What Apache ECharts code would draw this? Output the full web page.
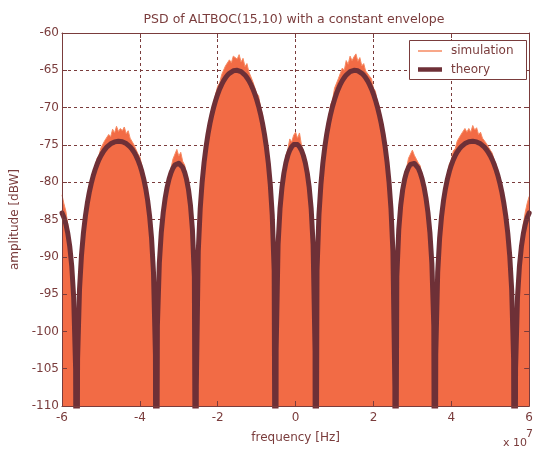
<!DOCTYPE html>
<html>
<head>
<meta charset="utf-8">
<script src="https://cdn.jsdelivr.net/npm/echarts@6/dist/echarts.min.js"></script>
<style>
html,body{margin:0;padding:0;background:#fff;}
#c{width:536px;height:450px;}
</style>
</head>
<body>
<div id="c"></div>
<script>
// Frequency grid in MHz (includes the exact spectral nulls)
const freqMHz = [-60,-59.5,-59,-58.5,-58,-57.5,-57,-56.5,-56.265,-56,-55.5,-55,-54.5,-54,-53.5,-53,-52.5,-52,-51.5,-51,-50.5,-50,-49.5,-49,-48.5,-48,-47.5,-47,-46.5,-46,-45.5,-45,-44.5,-44,-43.5,-43,-42.5,-42,-41.5,-41,-40.5,-40,-39.5,-39,-38.5,-38,-37.5,-37,-36.5,-36,-35.805,-35.5,-35,-34.5,-34,-33.5,-33,-32.5,-32,-31.5,-31,-30.5,-30,-29.5,-29,-28.5,-28,-27.5,-27,-26.5,-26,-25.575,-25.5,-25,-24.5,-24,-23.5,-23,-22.5,-22,-21.5,-21,-20.5,-20,-19.5,-19,-18.5,-18,-17.5,-17,-16.5,-16,-15.5,-15,-14.5,-14,-13.5,-13,-12.5,-12,-11.5,-11,-10.5,-10,-9.5,-9,-8.5,-8,-7.5,-7,-6.5,-6,-5.5,-5.115,-5,-4.5,-4,-3.5,-3,-2.5,-2,-1.5,-1,-0.5,
0,0.5,1,1.5,2,2.5,3,3.5,4,4.5,5,5.115,5.5,6,6.5,7,7.5,8,8.5,9,9.5,10,10.5,11,11.5,12,12.5,13,13.5,14,14.5,15,15.5,16,16.5,17,17.5,18,18.5,19,19.5,20,20.5,21,21.5,22,22.5,23,23.5,24,24.5,25,25.5,25.575,26,26.5,27,27.5,28,28.5,29,29.5,30,30.5,31,31.5,32,32.5,33,33.5,34,34.5,35,35.5,35.805,36,36.5,37,37.5,38,38.5,39,39.5,40,40.5,41,41.5,42,42.5,43,43.5,44,44.5,45,45.5,46,46.5,47,47.5,48,48.5,49,49.5,50,50.5,51,51.5,52,52.5,53,53.5,54,54.5,55,55.5,56,56.265,56.5,57,57.5,58,58.5,59,59.5,60];

// Theoretical PSD (dBW/Hz), -150 marks the nulls (below the axis)
const theoryDb = [-84.12,-84.74,-85.63,-86.89,-88.65,-91.22,-95.40,-105.02,-150,-103.74,-94.34,-89.82,-86.82,-84.59,-82.83,-81.39,-80.19,-79.18,-78.33,-77.60,-76.97,-76.44,-76.00,-75.62,-75.31,-75.06,-74.86,-74.70,-74.60,-74.53,-74.50,-74.52,-74.58,-74.67,-74.82,-75.01,-75.26,-75.58,-75.96,-76.44,-77.01,-77.70,-78.54,-79.57,-80.84,-82.44,-84.54,-87.47,-92.10,-103.10,-150,-99.22,-90.84,-86.73,-84.06,-82.13,-80.68,-79.57,-78.73,-78.11,-77.70,-77.48,-77.45,-77.62,-78.01,-78.66,-79.63,-81.03,-83.10,-86.36,-92.67,-150,-107.34,-89.29,-83.54,-79.96,-77.33,-75.26,-73.56,-72.14,-70.93,-69.88,-68.97,-68.18,-67.50,-66.92,-66.42,-66.01,-65.67,-65.40,-65.20,-65.07,-65.00,-65.00,-65.06,-65.19,-65.38,-65.64,-65.98,-66.39,-66.88,-67.46,-68.13,-68.91,-69.82,-70.87,-72.10,-73.55,-75.30,-77.47,-80.31,-84.39,-91.85,-150,-102.61,-88.35,-83.53,-80.70,-78.78,-77.41,-76.42,-75.71,-75.24,-74.96,
-74.87,-74.96,-75.24,-75.71,-76.42,-77.41,-78.78,-80.70,-83.53,-88.35,-102.61,-150,-91.85,-84.39,-80.31,-77.47,-75.30,-73.55,-72.10,-70.87,-69.82,-68.91,-68.13,-67.46,-66.88,-66.39,-65.98,-65.64,-65.38,-65.19,-65.06,-65.00,-65.00,-65.07,-65.20,-65.40,-65.67,-66.01,-66.42,-66.92,-67.50,-68.18,-68.97,-69.88,-70.93,-72.14,-73.56,-75.26,-77.33,-79.96,-83.54,-89.29,-107.34,-150,-92.67,-86.36,-83.10,-81.03,-79.63,-78.66,-78.01,-77.62,-77.45,-77.48,-77.70,-78.11,-78.73,-79.57,-80.68,-82.13,-84.06,-86.73,-90.84,-99.22,-150,-103.10,-92.10,-87.47,-84.54,-82.44,-80.84,-79.57,-78.54,-77.70,-77.01,-76.44,-75.96,-75.58,-75.26,-75.01,-74.82,-74.67,-74.58,-74.52,-74.50,-74.53,-74.60,-74.70,-74.86,-75.06,-75.31,-75.62,-76.00,-76.44,-76.97,-77.60,-78.33,-79.18,-80.19,-81.39,-82.83,-84.59,-86.82,-89.82,-94.34,-103.74,-150,-105.02,-95.40,-91.22,-88.65,-86.89,-85.63,-84.74,-84.12];

// Simulated PSD (dBW/Hz)
const simulationDb = [-81.7,-82.9,-83.9,-85.7,-87.7,-90.7,-95.0,-105.0,-150,-103.7,-94.2,-89.6,-86.6,-84.2,-82.5,-80.9,-79.8,-78.6,-77.8,-76.8,-76.4,-75.4,-75.3,-74.4,-74.4,-73.6,-73.9,-72.9,-73.4,-72.5,-73.2,-72.8,-73.1,-72.6,-73.5,-73.1,-74.1,-74.0,-75.0,-75.0,-76.2,-76.6,-77.8,-78.8,-80.3,-81.8,-84.2,-87.1,-92.0,-103.1,-150,-99.2,-90.6,-86.5,-83.8,-81.6,-80.3,-78.9,-78.1,-76.9,-76.9,-75.6,-76.5,-76.0,-77.2,-77.7,-79.1,-80.3,-82.8,-86.0,-92.6,-150,-107.3,-89.2,-83.2,-79.7,-76.8,-74.9,-72.9,-71.6,-70.1,-69.3,-68.1,-67.1,-66.7,-65.6,-65.5,-64.4,-64.6,-63.6,-64.0,-63.1,-63.3,-63.5,-62.9,-63.9,-63.4,-64.5,-64.1,-65.2,-65.4,-66.5,-66.5,-68.1,-68.4,-70.0,-70.9,-73.0,-74.3,-77.0,-79.6,-84.1,-91.6,-150,-102.6,-88.2,-83.2,-80.1,-78.4,-76.5,-75.6,-74.2,-74.6,-73.7,
-73.3,-74.1,-73.4,-75.0,-75.2,-76.9,-78.0,-80.3,-83.0,-88.1,-102.6,-150,-91.7,-83.9,-79.9,-76.6,-74.7,-72.5,-71.4,-69.6,-69.0,-67.4,-67.2,-66.1,-66.1,-64.7,-65.0,-63.7,-64.2,-63.1,-63.7,-63.2,-62.8,-63.8,-63.3,-64.4,-64.1,-65.1,-64.9,-65.8,-66.1,-67.4,-67.8,-69.2,-69.9,-71.5,-72.8,-74.8,-76.7,-79.6,-83.2,-89.1,-107.3,-150,-92.5,-86.1,-82.6,-80.6,-78.8,-78.1,-76.8,-76.7,-75.7,-76.4,-76.2,-77.4,-77.8,-79.1,-80.1,-81.7,-83.7,-86.4,-90.6,-99.2,-150,-103.1,-91.9,-87.2,-84.1,-81.9,-80.1,-79.0,-77.6,-77.0,-75.8,-75.5,-74.5,-74.5,-73.6,-73.7,-72.8,-73.3,-72.8,-73.3,-72.4,-73.0,-72.7,-73.6,-73.3,-74.1,-73.9,-74.8,-74.9,-75.7,-76.1,-77.0,-77.6,-78.7,-79.6,-81.0,-82.3,-84.2,-86.5,-89.6,-94.2,-103.7,-150,-105.0,-95.1,-90.6,-87.8,-85.6,-84.0,-82.8,-81.9];

const seriesNames = ['simulation', 'theory'];
const titleText = 'PSD of ALTBOC(15,10) with a constant envelope';
const xName = 'frequency [Hz]';
const yName = 'amplitude [dBW]';

const TXT = '#7a3c3c';
const FONT = 'DejaVu Sans';
const FILL = '#F26B45';
const SIMLINE = '#F68A62';
const THEORY = '#6E3037';

const simPairs = freqMHz.map((f, i) => [f * 1e6, simulationDb[i]]);
const theoryPairs = freqMHz.map((f, i) => [f * 1e6, theoryDb[i]]);

const xBase = {type: 'value', min: -6e7, max: 6e7, interval: 2e7};
const yBase = {type: 'value', min: -110, max: -60, interval: 5};

const chart = echarts.init(document.getElementById('c'), null, {renderer: 'canvas'});
chart.setOption({
  animation: false,
  backgroundColor: '#ffffff',
  title: {
    text: titleText, left: 289, top: 8, textAlign: 'center',
    textStyle: {fontFamily: FONT, fontSize: 12.5, fontWeight: 'normal', color: TXT}
  },
  grid: {left: 62, right: 3, top: 33, bottom: 44, containLabel: false},
  xAxis: [
    Object.assign({}, xBase, {
      position: 'bottom', z: 5,
      name: xName, nameLocation: 'middle', nameGap: 26,
      nameTextStyle: {fontFamily: FONT, fontSize: 12, color: TXT},
      axisLine: {show: true, onZero: false, lineStyle: {color: TXT, width: 1}},
      axisTick: {show: true, inside: true, length: 5, lineStyle: {color: TXT}},
      axisLabel: {show: true, margin: 6, color: TXT, fontFamily: FONT, fontSize: 12,
        formatter: v => String(Math.round(v / 1e7))},
      splitLine: {show: false}
    }),
    Object.assign({}, xBase, {
      position: 'top', z: 5,
      axisLine: {show: true, onZero: false, lineStyle: {color: TXT, width: 1}},
      axisTick: {show: true, inside: true, length: 5, lineStyle: {color: TXT}},
      axisLabel: {show: false}, splitLine: {show: false}
    }),
    Object.assign({}, xBase, {
      position: 'bottom', z: 0,
      axisLine: {show: false}, axisTick: {show: false}, axisLabel: {show: false},
      splitLine: {show: true, lineStyle: {color: TXT, width: 1, type: [3, 3]}}
    })
  ],
  yAxis: [
    Object.assign({}, yBase, {
      position: 'left', z: 5,
      name: yName, nameLocation: 'middle', nameGap: 41,
      nameTextStyle: {fontFamily: FONT, fontSize: 12, color: TXT},
      axisLine: {show: true, onZero: false, lineStyle: {color: TXT, width: 1}},
      axisTick: {show: true, inside: true, length: 5, lineStyle: {color: TXT}},
      axisLabel: {show: true, margin: 3, color: TXT, fontFamily: FONT, fontSize: 12},
      splitLine: {show: false}
    }),
    Object.assign({}, yBase, {
      position: 'right', z: 5,
      axisLine: {show: true, onZero: false, lineStyle: {color: TXT, width: 1}},
      axisTick: {show: true, inside: true, length: 5, lineStyle: {color: TXT}},
      axisLabel: {show: false}, splitLine: {show: false}
    }),
    Object.assign({}, yBase, {
      position: 'left', z: 0,
      axisLine: {show: false}, axisTick: {show: false}, axisLabel: {show: false},
      splitLine: {show: true, lineStyle: {color: TXT, width: 1, type: [3, 3]}}
    })
  ],
  series: [
    {
      name: seriesNames[0], type: 'line', xAxisIndex: 0, yAxisIndex: 0,
      data: simPairs, showSymbol: false, symbol: 'none', clip: true, z: 2,
      lineStyle: {color: SIMLINE, width: 1},
      areaStyle: {color: FILL, opacity: 1, origin: 'start'}
    },
    {
      name: seriesNames[1], type: 'line', xAxisIndex: 0, yAxisIndex: 0,
      data: theoryPairs, showSymbol: false, symbol: 'none', clip: true, z: 3,
      lineStyle: {color: THEORY, width: 5, join: 'round', cap: 'round'}
    }
  ],
  graphic: [
    {type: 'rect', z: 100, shape: {x: 409.5, y: 40.5, width: 117, height: 39},
      style: {fill: '#ffffff', stroke: TXT, lineWidth: 1}},
    {type: 'line', z: 101, shape: {x1: 418, y1: 51, x2: 442, y2: 51},
      style: {stroke: SIMLINE, lineWidth: 1.5}},
    {type: 'line', z: 101, shape: {x1: 418, y1: 69.5, x2: 442, y2: 69.5},
      style: {stroke: THEORY, lineWidth: 4.5}},
    {type: 'text', z: 101, x: 451, y: 51,
      style: {text: seriesNames[0], fill: TXT, font: '12px "DejaVu Sans"', verticalAlign: 'middle', align: 'left'}},
    {type: 'text', z: 101, x: 451, y: 69.5,
      style: {text: seriesNames[1], fill: TXT, font: '12px "DejaVu Sans"', verticalAlign: 'middle', align: 'left'}},
    {type: 'text', z: 101, x: 503, y: 443.5,
      style: {text: 'x 10', fill: TXT, font: '11px "DejaVu Sans"', verticalAlign: 'middle', align: 'left'}},
    {type: 'text', z: 101, x: 526, y: 434,
      style: {text: '7', fill: TXT, font: '11px "DejaVu Sans"', verticalAlign: 'middle', align: 'left'}}
  ]
});
</script>
</body>
</html>
